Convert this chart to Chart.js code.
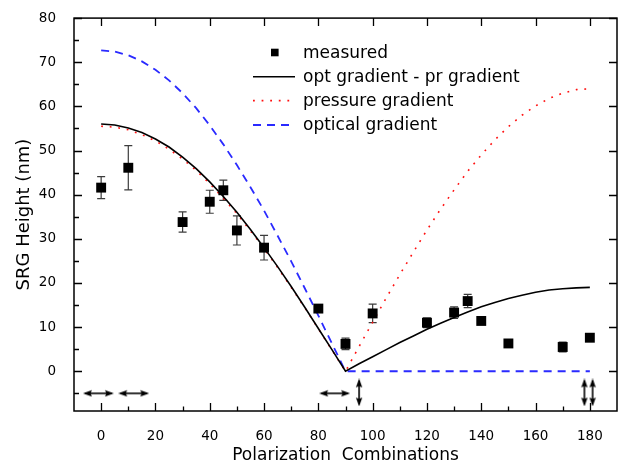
<!DOCTYPE html>
<html><head><meta charset="utf-8">
<script src="https://cdn.jsdelivr.net/npm/chart.js@4/dist/chart.umd.min.js"></script>
<style>html,body{margin:0;padding:0;background:#fff;overflow:hidden}</style>
</head><body>
<canvas id="c" width="636" height="473"></canvas>
<script>
// ---- data ----
const measuredX   = [0, 10, 30, 40, 45, 50, 60, 80, 90, 100, 120, 130, 135, 140, 150, 170, 180];
const measuredY   = [41.6, 46.1, 33.8, 38.4, 41.0, 31.9, 28.0, 14.2, 6.2, 13.1, 11.0, 13.3, 15.9, 11.4, 6.3, 5.5, 7.6];
const measuredErr = [2.5, 5.0, 2.3, 2.6, 2.3, 3.3, 2.8, 0.6, 1.3, 2.1, 1.1, 1.3, 1.5, 0.6, 0.3, 1.1, 0.3];

const curveX = [0,5,10,15,20,25,30,35,40,45,50,55,60,65,70,75,80,85,90,95,100,105,110,115,120,125,130,135,140,145,150,155,160,165,170,175,180];
const diffY = [56.0,55.8,55.1,54.1,52.6,50.8,48.5,45.9,42.9,39.6,36.0,32.1,28.0,23.7,19.2,14.5,9.7,4.9,0,
               1.7,3.3,4.9,6.5,8.0,9.5,10.9,12.2,13.4,14.6,15.6,16.5,17.2,17.9,18.4,18.7,18.9,19.0];
const pressureY = [55.5,55.3,54.7,53.6,52.2,50.3,48.1,45.5,42.5,39.2,35.7,31.8,27.8,23.5,19.0,14.4,9.6,4.8,0,
                   5.6,11.1,16.6,21.9,27.0,32.0,36.7,41.1,45.3,49.0,52.4,55.4,58.0,60.1,61.8,63.0,63.8,64.0];
const opticalY = [72.7,72.4,71.6,70.2,68.3,65.9,63.0,59.6,55.7,51.4,46.7,41.7,36.4,30.7,24.9,18.8,12.6,6.3,0,
                  0,0,0,0,0,0,0,0,0,0,0,0,0,0,0,0,0,0];

// polarization arrow symbols
const hArrowX = [-1, 12, 86];
const hArrowY = [-5, -5, -5];
const vArrowX = [95, 178, 181];
const vArrowY = [-4.8, -4.8, -4.8];

const xTickLabels = [0, 20, 40, 60, 80, 100, 120, 140, 160, 180];
const yTickLabels = [0, 10, 20, 30, 40, 50, 60, 70, 80];

const seriesNames = ['measured', 'opt gradient - pr gradient', 'pressure gradient', 'optical gradient'];

const FONT = '"DejaVu Sans", "Liberation Sans", Arial, sans-serif';

function pts(xs, ys) { return xs.map((x, i) => ({x: x, y: ys[i]})); }

function makeArrow(horizontal) {
  const c = document.createElement('canvas');
  const L = horizontal ? 31 : 28, T = 8;
  c.width = horizontal ? L : T; c.height = horizontal ? T : L;
  const g = c.getContext('2d');
  g.fillStyle = '#000'; g.strokeStyle = '#000'; g.lineWidth = 1.6;
  const head = 9, m = T / 2;
  if (horizontal) {
    g.beginPath(); g.moveTo(2, m); g.lineTo(L - 2, m); g.stroke();
    g.beginPath(); g.moveTo(0, m); g.lineTo(head, 0.8); g.lineTo(head - 1.5, m); g.lineTo(head, T - 0.8); g.closePath(); g.fill();
    g.beginPath(); g.moveTo(L, m); g.lineTo(L - head, 0.8); g.lineTo(L - head + 1.5, m); g.lineTo(L - head, T - 0.8); g.closePath(); g.fill();
  } else {
    g.beginPath(); g.moveTo(m, 2); g.lineTo(m, L - 2); g.stroke();
    g.beginPath(); g.moveTo(m, 0); g.lineTo(0.8, head); g.lineTo(m, head - 1.5); g.lineTo(T - 0.8, head); g.closePath(); g.fill();
    g.beginPath(); g.moveTo(m, L); g.lineTo(0.8, L - head); g.lineTo(m, L - head + 1.5); g.lineTo(T - 0.8, L - head); g.closePath(); g.fill();
  }
  return c;
}
const hArrowImg = makeArrow(true);
const vArrowImg = makeArrow(false);

const framePlugin = {
  id: 'framePlugin',
  beforeDatasetsDraw(chart) {
    const {ctx, scales: {x, y}} = chart;
    ctx.save();
    ctx.strokeStyle = '#3c3c3c'; ctx.lineWidth = 1.2;
    measuredX.forEach((v, i) => {
      const px = x.getPixelForValue(v);
      const t = y.getPixelForValue(measuredY[i] + measuredErr[i]);
      const b = y.getPixelForValue(measuredY[i] - measuredErr[i]);
      ctx.beginPath();
      ctx.moveTo(px, t); ctx.lineTo(px, b);
      ctx.moveTo(px - 4, t); ctx.lineTo(px + 4, t);
      ctx.moveTo(px - 4, b); ctx.lineTo(px + 4, b);
      ctx.stroke();
    });
    ctx.restore();
  },
  afterDraw(chart) {
    const {ctx, chartArea: a, scales: {x, y}} = chart;
    ctx.save();
    ctx.strokeStyle = '#000'; ctx.lineWidth = 1.5;
    ctx.strokeRect(a.left, a.top, a.right - a.left, a.bottom - a.top);
    ctx.lineWidth = 1.3;
    ctx.beginPath();
    // bottom & top ticks
    for (let v = 0; v <= 180; v += 10) {
      const px = Math.round(x.getPixelForValue(v)) + 0.5;
      const major = v % 20 === 0;
      ctx.moveTo(px, a.bottom); ctx.lineTo(px, a.bottom - (major ? 8 : 4.5));
      if (major) { ctx.moveTo(px, a.top); ctx.lineTo(px, a.top + 8); }
    }
    // left & right ticks
    for (let v = -5; v <= 80; v += 5) {
      const py = Math.round(y.getPixelForValue(v)) + 0.5;
      const major = v % 10 === 0;
      ctx.moveTo(a.left, py); ctx.lineTo(a.left + (major ? 8 : 5), py);
      if (major) { ctx.moveTo(a.right, py); ctx.lineTo(a.right - 8, py); }
    }
    ctx.stroke();

    // legend
    const ds = chart.data.datasets;
    const rows = [52.5, 76.7, 100.6, 125];
    const sx0 = 253, sx1 = 295, tx = 303;
    ctx.font = '17px ' + FONT;
    ctx.fillStyle = '#000';
    ctx.textBaseline = 'middle';
    ctx.textAlign = 'left';
    for (let i = 0; i < 4; i++) {
      const d = ds[i], ry = rows[i];
      if (i === 0) {
        ctx.fillStyle = '#000';
        ctx.fillRect(271, ry - 3.8, 7.6, 7.6);
      } else {
        ctx.beginPath();
        ctx.strokeStyle = d.borderColor; ctx.lineWidth = d.borderWidth;
        ctx.setLineDash(d.borderDash || []);
        ctx.moveTo(sx0, ry); ctx.lineTo(sx1, ry); ctx.stroke();
        ctx.setLineDash([]);
      }
      ctx.fillStyle = '#000';
      ctx.fillText(d.label, tx, ry + 1);
    }
    ctx.restore();
  }
};

new Chart(document.getElementById('c'), {
  data: {
    datasets: [
      {type: 'scatter', label: seriesNames[0], data: pts(measuredX, measuredY),
       pointStyle: 'rect', pointRadius: 7, pointHoverRadius: 7,
       backgroundColor: '#000', borderColor: '#000', borderWidth: 0, order: 1},
      {type: 'line', label: seriesNames[1], data: pts(curveX, diffY),
       borderColor: '#000', borderWidth: 1.6, pointRadius: 0, tension: 0, fill: false, order: 2},
      {type: 'line', label: seriesNames[2], data: pts(curveX, pressureY),
       borderColor: '#ff1010', borderWidth: 1.6, borderDash: [1.8, 6.8], pointRadius: 0, tension: 0, fill: false, order: 3},
      {type: 'line', label: seriesNames[3], data: pts(curveX, opticalY),
       borderColor: '#2a2aff', borderWidth: 1.8, borderDash: [8, 6], pointRadius: 0, tension: 0, fill: false, order: 4},
      {type: 'scatter', label: 'hArrows', data: pts(hArrowX, hArrowY),
       pointStyle: hArrowImg, pointRadius: 10, order: 0},
      {type: 'scatter', label: 'vArrows', data: pts(vArrowX, vArrowY),
       pointStyle: vArrowImg, pointRadius: 10, order: 0}
    ]
  },
  options: {
    responsive: false,
    animation: false,
    devicePixelRatio: 1,
    events: [],
    layout: {padding: {top: 10, right: 19, bottom: 0, left: 0}},
    plugins: {legend: {display: false}, tooltip: {enabled: false}},
    scales: {
      x: {
        type: 'linear', position: 'bottom', min: -10, max: 190,
        afterFit(s) { s.height = 62; },
        grid: {display: false},
        border: {display: false},
        ticks: {
          stepSize: 10, autoSkip: false, maxRotation: 0, padding: 9, color: '#000',
          font: {family: FONT, size: 13.5},
          callback: (v) => xTickLabels.includes(v) ? String(v) : ''
        },
        title: {display: true, text: 'Polarization  Combinations', color: '#000',
                font: {family: FONT, size: 17}, padding: {top: 0, bottom: 7}}
      },
      y: {
        type: 'linear', position: 'left', min: -9, max: 80,
        afterFit(s) { s.width = 74; },
        grid: {display: false},
        border: {display: false},
        ticks: {
          stepSize: 10, autoSkip: false, padding: 10, color: '#000',
          font: {family: FONT, size: 13.5},
          callback: (v) => yTickLabels.includes(v) ? String(v) : ''
        },
        title: {display: true, text: 'SRG Height (nm)', color: '#000',
                font: {family: FONT, size: 18}, padding: {top: 14, bottom: 0}}
      }
    }
  },
  plugins: [framePlugin]
});
</script>
</body></html>
